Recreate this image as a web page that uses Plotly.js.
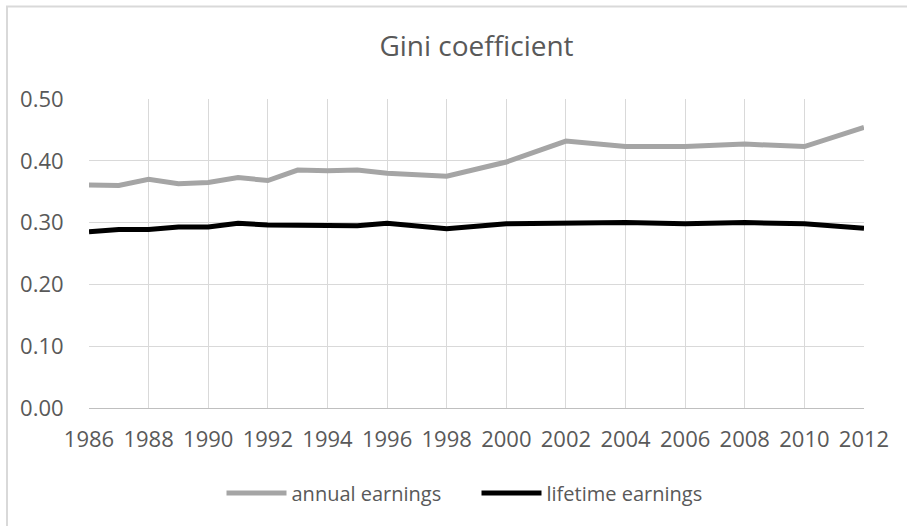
<!DOCTYPE html>
<html>
<head>
<meta charset="utf-8">
<script src="https://cdn.plot.ly/plotly-3.0.1.min.js"></script>
<style>
  html, body { margin: 0; padding: 0; background: #ffffff; overflow: hidden; }
  #chart { width: 907px; height: 526px; }
</style>
</head>
<body>
<div id="chart"></div>
<script>
// Data
const years = [1986, 1987, 1988, 1989, 1990, 1991, 1992, 1993, 1994, 1995, 1996, 1997, 1998,
               2000, 2002, 2004, 2006, 2008, 2010, 2012];
const annualEarnings = [0.361, 0.360, 0.370, 0.363, 0.365, 0.373, 0.368, 0.385, 0.384, 0.385, 0.380, 0.377, 0.375,
                        0.398, 0.432, 0.423, 0.423, 0.427, 0.423, 0.454];
const lifetimeEarnings = [0.285, 0.289, 0.289, 0.293, 0.293, 0.299, 0.296, 0.295, 0.295, 0.295, 0.299, 0.295, 0.290,
                          0.298, 0.300, 0.300, 0.298, 0.300, 0.298, 0.291];
const seriesNames = ["annual earnings", "lifetime earnings"];
const chartTitle = "Gini coefficient";

const FONT = "Open Sans, Roboto, sans-serif";
const TXT = "#595959";

const traces = [
  {
    x: years, y: annualEarnings, name: seriesNames[0], type: "scatter", mode: "lines",
    line: { color: "#a5a5a5", width: 5 }
  },
  {
    x: years, y: lifetimeEarnings, name: seriesNames[1], type: "scatter", mode: "lines",
    line: { color: "#000000", width: 5 }
  }
];

const layout = {
  width: 907, height: 526,
  margin: { l: 89, r: 43, t: 99, b: 118 },
  paper_bgcolor: "#ffffff", plot_bgcolor: "#ffffff",
  font: { family: FONT, color: TXT, size: 20 },
  title: {
    text: chartTitle,
    font: { family: FONT, size: 28, color: TXT },
    x: 0.5, xanchor: "center", xref: "paper",
    y: 1 - 46 / 526, yanchor: "middle", yref: "container"
  },
  xaxis: {
    range: [1986, 2012],
    tickmode: "linear", tick0: 1986, dtick: 2,
    showgrid: true, gridcolor: "#d9d9d9", gridwidth: 1,
    showline: true, linecolor: "#bfbfbf", linewidth: 1,
    zeroline: false,
    ticks: "outside", ticklen: 12, tickcolor: "rgba(0,0,0,0)",
    tickfont: { family: FONT, size: 22, color: TXT },
    fixedrange: true
  },
  yaxis: {
    range: [0, 0.5],
    tickmode: "linear", tick0: 0, dtick: 0.1,
    tickformat: ".2f",
    showgrid: true, gridcolor: "#d9d9d9", gridwidth: 1,
    showline: false, zeroline: false,
    ticks: "outside", ticklen: 20, tickcolor: "rgba(0,0,0,0)",
    tickfont: { family: FONT, size: 22, color: TXT },
    fixedrange: true
  },
  showlegend: true,
  legend: {
    orientation: "h",
    x: 0.5, xanchor: "center",
    y: -85 / 309, yanchor: "middle",
    font: { family: FONT, size: 20, color: TXT },
    bgcolor: "rgba(0,0,0,0)",
    itemwidth: 60,
    entrywidth: 180
  },
  shapes: [
    {
      type: "rect", xref: "paper", yref: "paper",
      x0: (7 - 89) / 775, x1: 2, y0: -2, y1: (408 - 6.5) / 309,
      line: { color: "#d9d9d9", width: 2 }, fillcolor: "rgba(0,0,0,0)", layer: "below"
    }
  ]
};

Plotly.newPlot("chart", traces, layout, { displayModeBar: false, staticPlot: true });
</script>
</body>
</html>
